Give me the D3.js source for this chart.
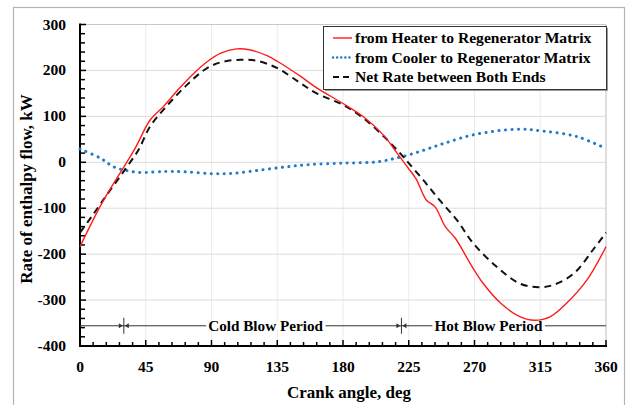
<!DOCTYPE html>
<html>
<head>
<meta charset="utf-8">
<script src="https://cdn.jsdelivr.net/npm/d3@7"></script>
<style>
  html, body { margin: 0; padding: 0; background: #fff; }
  svg { display: block; }
</style>
</head>
<body>
<svg id="chart" width="631" height="405" font-family="'Liberation Serif', 'Times New Roman', Times, serif" font-weight="bold"></svg>
<script>
// Enthalpy flow rates over one crank revolution (kW)
const heaterAngles = [0, 15, 31, 38, 48, 57, 68, 78, 87, 96, 107, 116, 128, 135, 151, 162, 180, 194, 208, 217, 224, 230, 237, 243, 250, 257, 267, 276, 288, 301, 311, 322, 333, 347, 360];
const heaterValues = [-184, -89, -5, 32, 92, 121, 161, 194, 219, 237, 247, 245, 232, 220, 187, 162, 128, 99, 58, 20, -10, -36, -82, -97, -140, -166, -220, -264, -307, -336, -344, -336, -307, -256, -184];

const coolerAngles = [0, 14, 23, 32, 41, 59, 73, 91, 105, 123, 141, 157, 180, 203, 219, 235, 249, 271, 299, 317, 340, 360];
const coolerValues = [29, 9, -10, -18, -22, -20, -21, -25, -24, -17, -10, -5, -2, 1, 11, 26, 41, 61, 72, 68, 56, 30];

const netAngles = [0, 8, 19, 31, 40, 48, 59, 73, 87, 98, 110, 121, 135, 151, 162, 180, 194, 208, 219, 225, 235, 246, 258, 269, 285, 301, 314, 324, 338, 351, 360];
const netValues = [-153, -118, -68, -15, 27, 78, 121, 168, 205, 219, 223, 221, 205, 172, 150, 125, 96, 56, 20, -2, -39, -82, -126, -176, -227, -264, -272, -267, -242, -191, -153];

const seriesNames = ["from Heater to Regenerator Matrix", "from Cooler to Regenerator Matrix", "Net Rate between Both Ends"];

const xTicks = [0, 45, 90, 135, 180, 225, 270, 315, 360];
const yTicks = [-400, -300, -200, -100, 0, 100, 200, 300];

// Blow periods marked along the bottom of the plot
const periodBounds = [30, 220];
const periodLevel = -356;
const periodLabels = ["Cold Blow Period", "Hot Blow Period"];
const periodLabelAngles = [127, 279.5];

const svg = d3.select("#chart");

// outer chart frame
svg.append("rect")
  .attr("x", 13.5).attr("y", 7.5).attr("width", 611).attr("height", 420)
  .attr("fill", "#fff").attr("stroke", "#b3b3b3").attr("stroke-width", 1.2);

const x = d3.scaleLinear().domain([0, 360]).range([80, 606]);
const y = d3.scaleLinear().domain([-400, 300]).range([346, 24.5]);

// gridlines
svg.append("g").selectAll("line").data(xTicks.slice(1)).join("line")
  .attr("x1", d => x(d)).attr("x2", d => x(d))
  .attr("y1", y(300)).attr("y2", y(-400))
  .attr("stroke", d => d === 360 ? "#bfbfbf" : "#ebebeb").attr("stroke-width", 1);
svg.append("g").selectAll("line").data(yTicks.slice(1)).join("line")
  .attr("x1", x(0)).attr("x2", x(360))
  .attr("y1", d => y(d)).attr("y2", d => y(d))
  .attr("stroke", d => d === 300 ? "#c8c8c8" : "#dcdcdc").attr("stroke-width", 1);

// axes with inward ticks
const xMinor = d3.range(0, 361, 9);
const yMinor = d3.range(-400, 301, 20);

const xAxis = svg.append("g").attr("transform", `translate(0,${y(-400)})`);
xAxis.selectAll("line.minor").data(xMinor).join("line")
  .attr("x1", d => x(d)).attr("x2", d => x(d))
  .attr("y1", 0).attr("y2", d => d % 45 === 0 ? -6 : -4)
  .attr("stroke", "#000").attr("stroke-width", 1.5);
xAxis.append("line").attr("x1", x(0) - 1).attr("x2", x(360) + 1)
  .attr("stroke", "#000").attr("stroke-width", 2);
xAxis.selectAll("text").data(xTicks).join("text")
  .attr("x", d => x(d)).attr("y", 26)
  .attr("text-anchor", "middle").attr("font-size", 15.5)
  .text(d => d);

const yAxis = svg.append("g").attr("transform", `translate(${x(0)},0)`);
yAxis.selectAll("line.minor").data(yMinor).join("line")
  .attr("x1", 0).attr("x2", d => d % 100 === 0 ? 6 : 5)
  .attr("y1", d => y(d)).attr("y2", d => y(d))
  .attr("stroke", "#000").attr("stroke-width", 1.5);
yAxis.append("line").attr("y1", y(300) - 1).attr("y2", y(-400) + 1)
  .attr("stroke", "#000").attr("stroke-width", 2);
yAxis.selectAll("text").data(yTicks).join("text")
  .attr("x", -14).attr("y", d => y(d) + 5)
  .attr("text-anchor", "end").attr("font-size", 15.5)
  .text(d => d);

// axis titles
svg.append("text").attr("x", 349).attr("y", 398)
  .attr("text-anchor", "middle").attr("font-size", 17)
  .text("Crank angle, deg");
svg.append("text")
  .attr("transform", `translate(32,${189}) rotate(-90)`)
  .attr("text-anchor", "middle").attr("font-size", 17)
  .text("Rate of enthalpy flow, kW");

// blow period markers
const ann = svg.append("g");
const levelY = y(periodLevel);
ann.append("line").attr("x1", x(0)).attr("x2", x(360))
  .attr("y1", levelY).attr("y2", levelY)
  .attr("stroke", "#333").attr("stroke-width", 1);
periodBounds.forEach(b => {
  const bx = x(b);
  ann.append("line").attr("x1", bx).attr("x2", bx)
    .attr("y1", levelY - 8).attr("y2", levelY + 8)
    .attr("stroke", "#333").attr("stroke-width", 1);
  ann.append("path")
    .attr("d", `M${bx - 1},${levelY} L${bx - 5},${levelY - 2.5} L${bx - 5},${levelY + 2.5} Z`)
    .attr("fill", "#333");
  ann.append("path")
    .attr("d", `M${bx + 1},${levelY} L${bx + 5},${levelY - 2.5} L${bx + 5},${levelY + 2.5} Z`)
    .attr("fill", "#333");
});
periodLabels.forEach((t, i) => {
  const tx = ann.append("text")
    .attr("x", x(periodLabelAngles[i])).attr("y", levelY + 5)
    .attr("text-anchor", "middle").attr("font-size", 15.2)
    .text(t);
  const bb = tx.node().getBBox();
  ann.insert("rect", "text")
    .attr("x", bb.x - 2).attr("y", levelY - 3).attr("width", bb.width + 4).attr("height", 6)
    .attr("fill", "#fff");
});

// data series
const line = d3.line().x(d => x(d[0])).y(d => y(d[1])).curve(d3.curveCatmullRom.alpha(0.5));
const zipSeries = (a, v) => a.map((d, i) => [d, v[i]]);

const seriesStyle = [
  { color: "#ff1a1a", width: 1.4, dash: null, cap: "butt" },
  { color: "#1f7ac8", width: 3, dash: "0.1 6.4", cap: "round" },
  { color: "#111", width: 2, dash: "7 5", cap: "butt" }
];
const seriesData = [
  zipSeries(heaterAngles, heaterValues),
  zipSeries(coolerAngles, coolerValues),
  zipSeries(netAngles, netValues)
];

const drawOrder = [1, 2, 0];
drawOrder.forEach(i => {
  const s = seriesStyle[i];
  svg.append("path").datum(seriesData[i])
    .attr("d", line)
    .attr("fill", "none")
    .attr("stroke", s.color)
    .attr("stroke-width", s.width)
    .attr("stroke-dasharray", s.dash)
    .attr("stroke-linecap", s.cap);
});

// legend
const lg = svg.append("g");
lg.append("rect").attr("x", 325).attr("y", 28).attr("width", 283).attr("height", 63)
  .attr("fill", "#9a9a9a");
lg.append("rect").attr("x", 323.5).attr("y", 26.5).attr("width", 283).attr("height", 63)
  .attr("fill", "#fff").attr("stroke", "#333").attr("stroke-width", 1);
seriesNames.forEach((name, i) => {
  const ly = 38 + i * 19.5;
  const s = seriesStyle[i];
  lg.append("line").attr("x1", 333).attr("x2", 352).attr("y1", ly).attr("y2", ly)
    .attr("stroke", s.color).attr("stroke-width", i === 1 ? 2.4 : s.width)
    .attr("stroke-dasharray", i === 1 ? "0.1 4" : (i === 2 ? "6 4" : null))
    .attr("stroke-linecap", s.cap);
  lg.append("text").attr("x", 355).attr("y", ly + 5)
    .attr("font-size", 15.6)
    .text(name);
});
</script>
</body>
</html>
